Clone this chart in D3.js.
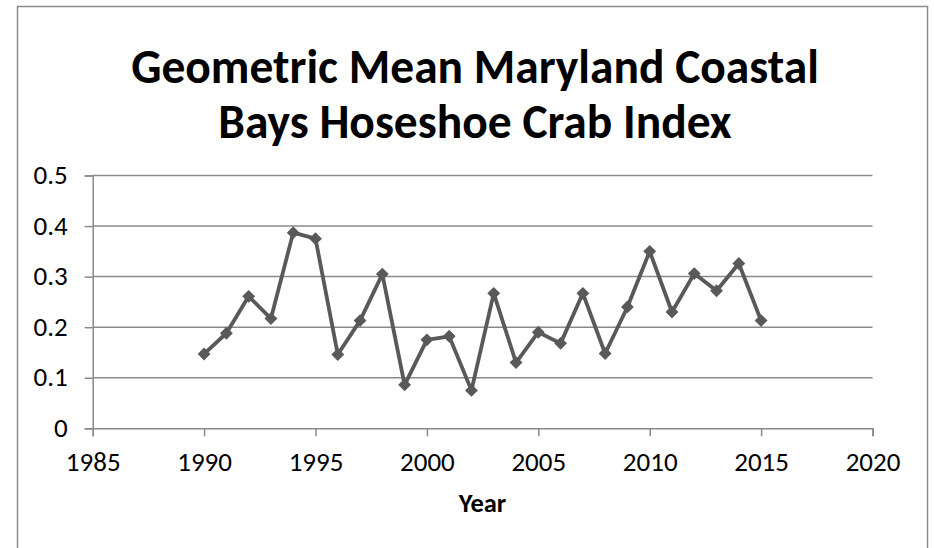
<!DOCTYPE html>
<html>
<head>
<meta charset="utf-8">
<script src="https://cdn.jsdelivr.net/npm/d3@7"></script>
<style>
  html, body { margin: 0; padding: 0; background: #ffffff; }
  svg { display: block; }
  text { font-family: Carlito, Calibri, Lato, "Open Sans", sans-serif; fill: #000; }
</style>
</head>
<body>
<svg id="chart" width="934" height="548"></svg>
<script>
// Survey index by year
const years = [1990, 1991, 1992, 1993, 1994, 1995, 1996, 1997, 1998, 1999,
               2000, 2001, 2002, 2003, 2004, 2005, 2006, 2007, 2008, 2009,
               2010, 2011, 2012, 2013, 2014, 2015];
const indexValues = [0.147, 0.188, 0.261, 0.217, 0.387, 0.375, 0.146, 0.213, 0.305, 0.086,
                     0.175, 0.182, 0.075, 0.267, 0.130, 0.190, 0.168, 0.267, 0.148, 0.240,
                     0.350, 0.230, 0.306, 0.272, 0.326, 0.213];
const xTicks = [1985, 1990, 1995, 2000, 2005, 2010, 2015, 2020];
const yTicks = [0, 0.1, 0.2, 0.3, 0.4, 0.5];
const titleLines = ["Geometric Mean Maryland Coastal", "Bays Hoseshoe Crab Index"];
const xTitle = "Year";

const svg = d3.select("#chart");
const fontStack = "Carlito, Calibri, Lato, sans-serif";
const tickFontSize = "27px";

// outer chart frame
svg.append("rect")
  .attr("x", 17.5).attr("y", 6.5)
  .attr("width", 910).attr("height", 560)
  .attr("fill", "#fff").attr("stroke", "#8c8c8c").attr("stroke-width", 1.5);

const plot = { left: 92.7, right: 872.5, top: 175.5, bottom: 428.3 };

const x = d3.scaleLinear().domain([1985, 2020]).range([plot.left, plot.right]);
const y = d3.scaleLinear().domain([0, 0.5]).range([plot.bottom, plot.top]);

// horizontal gridlines
svg.append("g")
  .selectAll("line")
  .data(yTicks.filter(d => d > 0))
  .join("line")
  .attr("x1", plot.left).attr("x2", plot.right)
  .attr("y1", d => y(d)).attr("y2", d => y(d))
  .attr("stroke", "#8a8a8a").attr("stroke-width", 1.5);

// y axis
const yAxis = svg.append("g")
  .attr("transform", `translate(${plot.left},0)`)
  .call(d3.axisLeft(y).tickValues(yTicks).tickSize(8).tickPadding(17)
    .tickFormat(d => d === 0 ? "0" : d3.format(".1f")(d)));
yAxis.select(".domain").attr("stroke", "#8a8a8a").attr("stroke-width", 1.5);
yAxis.selectAll(".tick line").attr("stroke", "#8a8a8a").attr("stroke-width", 1.5);
yAxis.selectAll(".tick text")
  .attr("fill", "#000")
  .attr("dy", "0.3em")
  .style("font-size", tickFontSize)
  .style("font-family", fontStack);

// x axis
const xAxis = svg.append("g")
  .attr("transform", `translate(0,${plot.bottom})`)
  .call(d3.axisBottom(x).tickValues(xTicks).tickSize(8).tickPadding(16)
    .tickFormat(d3.format("d")));
xAxis.select(".domain").attr("stroke", "#8a8a8a").attr("stroke-width", 1.5);
xAxis.selectAll(".tick line").attr("stroke", "#8a8a8a").attr("stroke-width", 1.5);
xAxis.selectAll(".tick text")
  .attr("fill", "#000")
  .style("font-size", tickFontSize)
  .style("font-family", fontStack);

// series line
const data = years.map((yr, i) => ({ year: yr, value: indexValues[i] }));
svg.append("path")
  .datum(data)
  .attr("fill", "none")
  .attr("stroke", "#595959")
  .attr("stroke-width", 3.8)
  .attr("stroke-linejoin", "round")
  .attr("d", d3.line().x(d => x(d.year)).y(d => y(d.value)));

// diamond markers
const diamond = d3.symbol().type(d3.symbolDiamond2).size(105);
svg.append("g")
  .selectAll("path")
  .data(data)
  .join("path")
  .attr("transform", d => `translate(${x(d.year)},${y(d.value)})`)
  .attr("d", diamond)
  .attr("fill", "#595959");

// title
svg.append("g")
  .selectAll("text")
  .data(titleLines)
  .join("text")
  .attr("x", 475)
  .attr("y", (d, i) => 82.7 + i * 55.6)
  .attr("text-anchor", "middle")
  .attr("font-size", 47.5)
  .attr("font-weight", "bold")
  .text(d => d);

// x axis title
svg.append("text")
  .attr("x", 482.5).attr("y", 511.5)
  .attr("text-anchor", "middle")
  .attr("font-size", 26.5)
  .attr("font-weight", "bold")
  .text(xTitle);
</script>
</body>
</html>
